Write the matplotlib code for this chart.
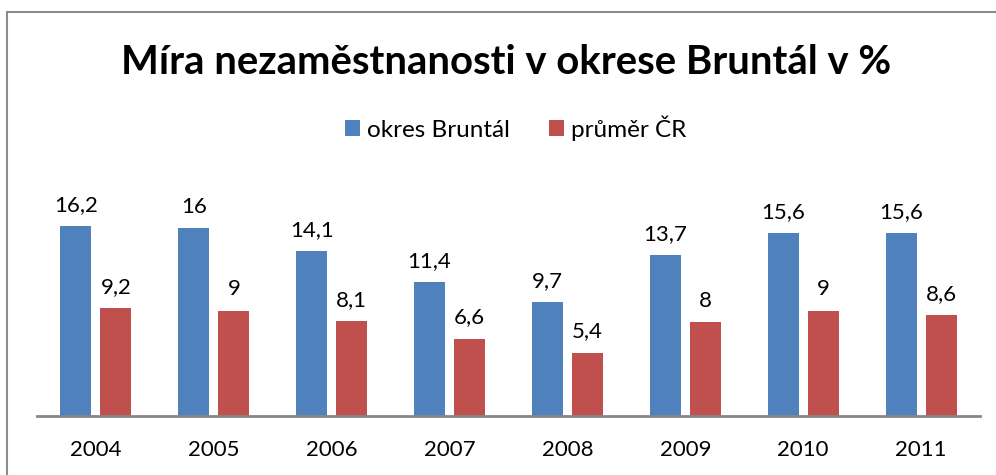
import matplotlib
matplotlib.use("Agg")
from matplotlib import pyplot as plt
from matplotlib.patches import Rectangle
import numpy as np

# Data
roky = ["2004", "2005", "2006", "2007", "2008", "2009", "2010", "2011"]
bruntal = [16.2, 16, 14.1, 11.4, 9.7, 13.7, 15.6, 15.6]
prumer_cr = [9.2, 9, 8.1, 6.6, 5.4, 8, 9, 8.6]
popisky_bruntal = ["16,2", "16", "14,1", "11,4", "9,7", "13,7", "15,6", "15,6"]
popisky_cr = ["9,2", "9", "8,1", "6,6", "5,4", "8", "9", "8,6"]

MODRA = "#4F81BD"
CERVENA = "#C0504D"
FONT = ["Lato", "DejaVu Sans"]

plt.rcParams["font.family"] = FONT

W, H = 996, 475
fig = plt.figure(figsize=(W / 100, H / 100), dpi=100)

# ram okolo grafu
fig.patches.append(Rectangle((7 / W, -0.05), 1.2, (H - 12) / H + 0.05,
                             transform=fig.transFigure, fill=False,
                             edgecolor="#8c8c8c", lw=1.5))

ax = fig.add_axes([37 / W, (H - 416) / H, 943 / W, 211 / H])

x = np.arange(len(roky))
sirka = 0.263
b1 = ax.bar(x - 0.17, bruntal, sirka, color=MODRA, label="okres Bruntál")
b2 = ax.bar(x + 0.17, prumer_cr, sirka, color=CERVENA, label="průměr ČR")

for rect, txt in zip(b1, popisky_bruntal):
    ax.annotate(txt, (rect.get_x() + rect.get_width() / 2, rect.get_height()),
                xytext=(0, 8), textcoords="offset points",
                ha="center", va="bottom", fontsize=16)
for rect, txt in zip(b2, popisky_cr):
    ax.annotate(txt, (rect.get_x() + rect.get_width() / 2, rect.get_height()),
                xytext=(0, 8), textcoords="offset points",
                ha="center", va="bottom", fontsize=16)

ax.set_xlim(-0.5, len(roky) - 0.5)
ax.set_ylim(0, 18)
ax.set_xticks(x)
ax.set_xticklabels(roky, fontsize=16)
ax.set_yticks([])
ax.tick_params(axis="x", length=0, pad=17)
for s in ["top", "left", "right"]:
    ax.spines[s].set_visible(False)
ax.spines["bottom"].set_color("#868686")
ax.spines["bottom"].set_linewidth(2)

fig.text(0.5085, (H - 62) / H, "Míra nezaměstnanosti v okrese Bruntál v %",
         ha="center", va="center", fontsize=28.8, fontweight="bold")

fig.legend(handles=[b1, b2], loc="center", bbox_to_anchor=(0.518, (H - 128) / H),
           ncol=2, frameon=False, fontsize=17.5, handlelength=0.6, handleheight=0.6,
           handletextpad=0.3, columnspacing=1.6)

fig.savefig("out.png", dpi=100)
